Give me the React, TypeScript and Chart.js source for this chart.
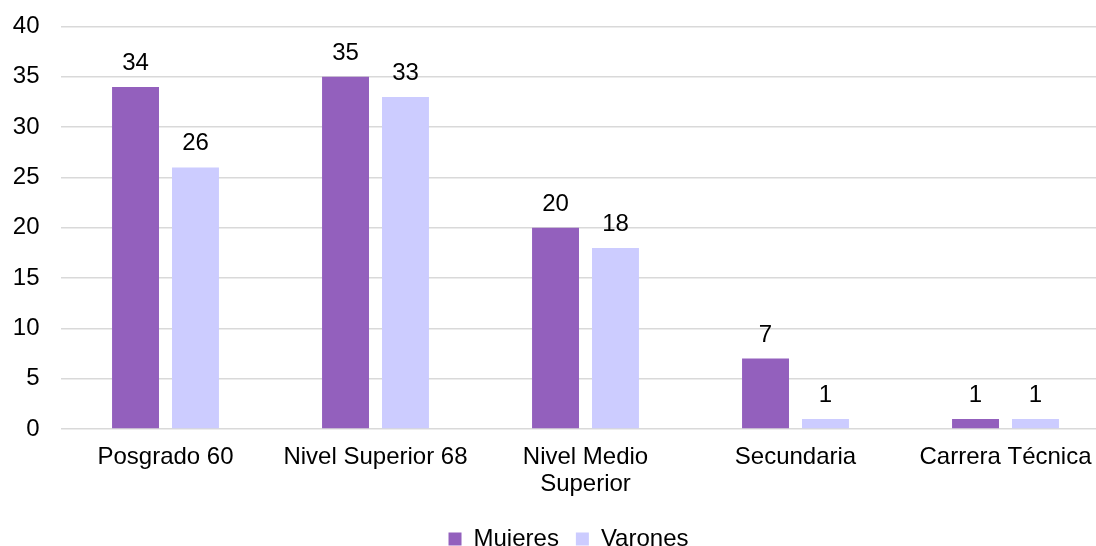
import React, { useEffect, useRef } from "react";
import { Chart, registerables } from "chart.js";

Chart.register(...registerables);

const categories: (string | string[])[] = [
  "Posgrado 60",
  "Nivel Superior 68",
  ["Nivel Medio", "Superior"],
  "Secundaria",
  "Carrera Técnica",
];
const mujeres = [34, 35, 20, 7, 1];
const varones = [26, 33, 18, 1, 1];
const seriesNames = ["Mujeres", "Varones"];
const yTicks = { min: 0, max: 40, step: 5 };

const FONT = "'Liberation Sans', Arial, sans-serif";

const valueLabels = {
  id: "valueLabels",
  afterDatasetsDraw(chart: any) {
    const ctx = chart.ctx;
    ctx.save();
    ctx.font = `24px ${FONT}`;
    ctx.fillStyle = "#000";
    ctx.textAlign = "center";
    ctx.textBaseline = "alphabetic";
    chart.data.datasets.forEach((ds: any, i: number) => {
      const meta = chart.getDatasetMeta(i);
      meta.data.forEach((bar: any, j: number) => {
        ctx.fillText(String(ds.data[j]), bar.x, bar.y - 17);
      });
    });
    ctx.restore();
  },
};

const legendShift = {
  id: "legendShift",
  afterLayout(chart: any) {
    if (chart.legend) chart.legend.left += 14;
  },
};

export default function App() {
  const ref = useRef<HTMLCanvasElement>(null);
  useEffect(() => {
    if (!ref.current) return;
    const chart = new Chart(ref.current, {
      type: "bar",
      data: {
        labels: categories,
        datasets: [
          {
            label: seriesNames[0],
            data: mujeres,
            backgroundColor: "#9360BD",
            categoryPercentage: 0.571,
            barPercentage: 0.783,
          },
          {
            label: seriesNames[1],
            data: varones,
            backgroundColor: "#CCCCFF",
            categoryPercentage: 0.571,
            barPercentage: 0.783,
          },
        ],
      },
      options: {
        responsive: false,
        animation: false,
        layout: { padding: { left: 12.5, right: 33.5, top: 26.5, bottom: 0 } },
        plugins: {
          legend: {
            position: "bottom",
            labels: {
              font: { family: FONT, size: 24 },
              color: "#000",
              boxWidth: 13,
              boxHeight: 13,
              padding: 17,
            },
          },
          tooltip: { enabled: false },
        },
        scales: {
          x: {
            grid: { display: false, drawTicks: false },
            border: { display: false },
            ticks: {
              font: { family: FONT, size: 24, lineHeight: 1.12 },
              color: "#000",
              padding: 14.6,
              maxRotation: 0,
              autoSkip: false,
            },
            afterFit: (s: any) => {
              s.height = 81;
            },
          },
          y: {
            min: yTicks.min,
            max: yTicks.max,
            grid: { color: "#D9D9D9", lineWidth: 1.5, drawTicks: false },
            border: { display: false },
            ticks: {
              stepSize: yTicks.step,
              font: { family: FONT, size: 24 },
              color: "#000",
              padding: 21,
            },
            afterFit: (s: any) => {
              s.width = 48;
              s.paddingTop = 0;
              s.paddingBottom = 0;
            },
          },
        },
      },
      plugins: [valueLabels, legendShift],
    });
    return () => chart.destroy();
  }, []);
  return (
    <div
      style={{
        position: "fixed",
        left: 0,
        top: 0,
        width: 1096,
        height: 546,
        overflow: "hidden",
        background: "#fff",
      }}
    >
      <canvas ref={ref} width={1144} height={561} style={{ display: "block" }} />
    </div>
  );
}
